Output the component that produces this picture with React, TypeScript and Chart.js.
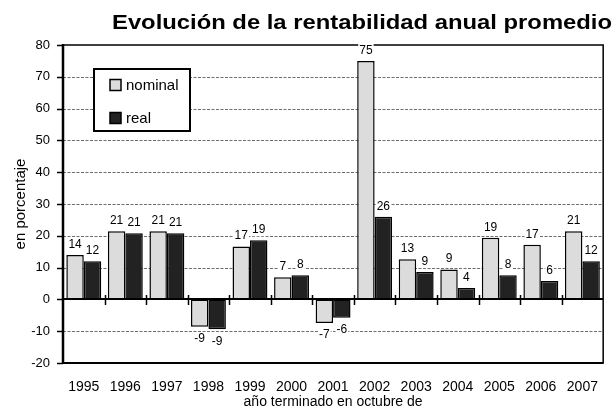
import React, { useEffect, useRef } from "react";
import { Chart, registerables } from "chart.js";

Chart.register(...registerables);

// ---- data ----
const categories = ["1995", "1996", "1997", "1998", "1999", "2000", "2001", "2002", "2003", "2004", "2005", "2006", "2007"];
const nominal = [14, 21.4, 21.4, -8.6, 16.6, 7.0, -7.4, 75, 12.6, 9.4, 19.4, 17.2, 21.4];
const real = [12, 20.8, 20.8, -9.4, 18.6, 7.6, -5.8, 26, 8.6, 3.6, 7.6, 5.8, 12];
const seriesLabels = ["nominal", "real"];
const yMin = -20;
const yMax = 80;
const yStep = 10;
const titleText = "Evolución de la rentabilidad anual promedio";
const yTitleText = "en porcentaje";
const xTitleText = "año terminado en octubre de";

// ---- styles ----
const SANS = '"Liberation Sans", Arial, Helvetica, sans-serif';
const NOMINAL_FILL = "#dcdcdc";
const REAL_FILL = "#222222";

const decorPlugin = {
  id: "decor",
  beforeDatasetsDraw(chart: any) {
    const { ctx, chartArea: a, scales } = chart;
    const y = scales.y;
    ctx.save();
    ctx.strokeStyle = "#6e6e6e";
    ctx.lineWidth = 1;
    ctx.setLineDash([3, 1.5]);
    y.ticks.forEach((t: any) => {
      if (t.value === y.min || t.value === y.max || t.value === 0) return;
      const py = Math.round(y.getPixelForValue(t.value)) + 0.5;
      ctx.beginPath();
      ctx.moveTo(a.left, py);
      ctx.lineTo(a.right, py);
      ctx.stroke();
    });
    ctx.restore();
  },
  afterDatasetsDraw(chart: any) {
    const { ctx, chartArea: a, scales } = chart;
    const y = scales.y;
    ctx.save();
    ctx.setLineDash([]);
    ctx.strokeStyle = "#000";

    // plot border
    ctx.lineWidth = 1.5;
    ctx.strokeRect(a.left, a.top, a.right - a.left, a.bottom - a.top);
    ctx.lineWidth = 2;
    ctx.beginPath();
    ctx.moveTo(a.left, a.bottom);
    ctx.lineTo(a.right, a.bottom);
    ctx.stroke();
    ctx.lineWidth = 2.5;
    ctx.beginPath();
    ctx.moveTo(a.left, a.top - 1);
    ctx.lineTo(a.left, a.bottom + 1);
    ctx.stroke();

    // y tick marks
    ctx.lineWidth = 1.5;
    y.ticks.forEach((t: any) => {
      const py = Math.round(y.getPixelForValue(t.value)) + 0.5;
      ctx.beginPath();
      ctx.moveTo(a.left - 6, py);
      ctx.lineTo(a.left, py);
      ctx.stroke();
    });

    // zero line with category tick marks
    const y0 = Math.round(y.getPixelForValue(0));
    ctx.lineWidth = 2;
    ctx.beginPath();
    ctx.moveTo(a.left, y0);
    ctx.lineTo(a.right, y0);
    ctx.stroke();
    const n = categories.length;
    const cw = (a.right - a.left) / n;
    ctx.lineWidth = 1.5;
    for (let i = 1; i < n; i++) {
      const px = Math.round(a.left + i * cw) + 0.5;
      ctx.beginPath();
      ctx.moveTo(px, y0 - 4);
      ctx.lineTo(px, y0 + 6);
      ctx.stroke();
    }

    // data labels
    ctx.font = `12px ${SANS}`;
    ctx.textAlign = "center";
    ctx.textBaseline = "middle";
    chart.data.datasets.forEach((ds: any, di: number) => {
      const meta = chart.getDatasetMeta(di);
      meta.data.forEach((el: any, i: number) => {
        const v = ds.data[i] as number;
        const txt = String(Math.round(v));
        const cy = v >= 0 ? el.y - 10.5 : el.y + 12;
        const w = ctx.measureText(txt).width;
        ctx.fillStyle = "#fff";
        ctx.fillRect(el.x - w / 2 - 1, cy - 6.5, w + 2, 13);
        ctx.fillStyle = "#000";
        ctx.fillText(txt, el.x, cy);
      });
    });

    // legend
    const lx = a.left + 31;
    const ly = a.top + 24;
    const lw = 96;
    const lh = 62;
    ctx.fillStyle = "#fff";
    ctx.fillRect(lx, ly, lw, lh);
    ctx.lineWidth = 2;
    ctx.strokeStyle = "#000";
    ctx.strokeRect(lx, ly, lw, lh);
    ctx.font = `15px ${SANS}`;
    ctx.textAlign = "left";
    ctx.textBaseline = "middle";
    chart.data.datasets.forEach((ds: any, di: number) => {
      const cy = ly + 16 + di * 33;
      ctx.fillStyle = ds.backgroundColor;
      ctx.fillRect(lx + 16, cy - 5.5, 11, 11);
      ctx.lineWidth = 1.5;
      ctx.strokeRect(lx + 16, cy - 5.5, 11, 11);
      ctx.fillStyle = "#000";
      ctx.fillText(ds.label, lx + 32, cy + 1);
    });

    // title (slightly stretched horizontally to the reference width)
    ctx.font = `bold 21px ${SANS}`;
    ctx.textAlign = "right";
    ctx.textBaseline = "alphabetic";
    ctx.fillStyle = "#000";
    const tw = ctx.measureText(titleText).width;
    const sx = tw > 0 ? 500 / tw : 1;
    ctx.translate(chart.width - 2, 29);
    ctx.scale(sx, 1);
    ctx.fillText(titleText, 0, 0);

    ctx.restore();
  },
};

export default function App() {
  const ref = useRef<HTMLCanvasElement | null>(null);

  useEffect(() => {
    if (!ref.current) return;
    const chart = new Chart(ref.current, {
      type: "bar",
      data: {
        labels: categories,
        datasets: [
          {
            label: seriesLabels[0],
            data: nominal,
            backgroundColor: NOMINAL_FILL,
            borderColor: "#000",
            borderWidth: 1.5,
            borderSkipped: false,
            categoryPercentage: 0.84,
            barPercentage: 1,
          },
          {
            label: seriesLabels[1],
            data: real,
            backgroundColor: REAL_FILL,
            borderColor: "#000",
            borderWidth: 1.5,
            borderSkipped: false,
            categoryPercentage: 0.84,
            barPercentage: 1,
          },
        ],
      },
      options: {
        responsive: false,
        animation: false,
        layout: { padding: { top: 45, right: 1, left: 0, bottom: 0 } },
        plugins: {
          legend: { display: false },
          title: { display: false },
          tooltip: { enabled: false },
        },
        scales: {
          x: {
            type: "category",
            offset: true,
            grid: { display: false, drawTicks: false },
            border: { display: false },
            ticks: {
              font: { family: SANS, size: 14 },
              color: "#000",
              padding: 16,
              maxRotation: 0,
              autoSkip: false,
            },
            title: {
              display: true,
              text: xTitleText,
              font: { family: SANS, size: 14 },
              color: "#000",
              padding: { top: 0, bottom: 3 },
            },
            afterFit: (s: any) => {
              s.height = 51;
            },
          },
          y: {
            min: yMin,
            max: yMax,
            grid: { display: false, drawTicks: false },
            border: { display: false },
            ticks: {
              stepSize: yStep,
              font: { family: SANS, size: 13 },
              color: "#000",
              padding: 13,
            },
            title: {
              display: true,
              text: yTitleText,
              font: { family: SANS, size: 15 },
              color: "#000",
              padding: { top: 12, bottom: 0 },
            },
            afterFit: (s: any) => {
              s.width = 63;
            },
          },
        },
      },
      plugins: [decorPlugin],
    });
    return () => chart.destroy();
  }, []);

  return (
    <div style={{ position: "absolute", left: 0, top: 0, width: 614, height: 414, background: "#fff" }}>
      <canvas ref={ref} width={614} height={414} style={{ display: "block" }} />
    </div>
  );
}
